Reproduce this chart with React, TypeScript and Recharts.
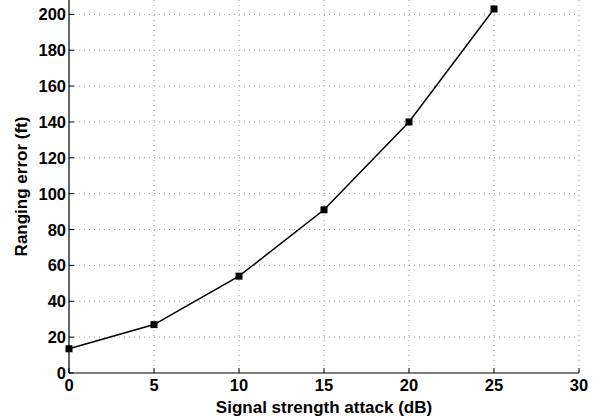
import React from 'react';
import { LineChart, Line, XAxis, YAxis, CartesianGrid, Label } from 'recharts';

const attackDb = [0, 5, 10, 15, 20, 25];
const rangingError = [13.5, 27, 54, 91, 140, 203];
const xTicks = [0, 5, 10, 15, 20, 25, 30];
const yTicks = [0, 20, 40, 60, 80, 100, 120, 140, 160, 180, 200];

const data = attackDb.map((x, i) => ({ x, err: rangingError[i] }));

const FONT = '"Liberation Sans", Arial, Helvetica, sans-serif';

const SquareDot = (props: any) => {
  const { cx, cy } = props;
  if (cx == null || cy == null) return null;
  return <rect x={cx - 3.5} y={cy - 3.5} width={7} height={7} fill="#000" />;
};

const XTick = (props: any) => {
  const { x, y, payload } = props;
  return (
    <g>
      <line x1={x} y1={y} x2={x} y2={y - 5} stroke="#000" strokeWidth={1} />
      <text x={x} y={y + 18} textAnchor="middle" fontFamily={FONT} fontWeight="bold" fontSize={16.5} fill="#000">
        {payload.value}
      </text>
    </g>
  );
};

const YTick = (props: any) => {
  const { x, y, payload } = props;
  return (
    <g>
      <line x1={x} y1={y} x2={x + 5} y2={y} stroke="#000" strokeWidth={1} />
      <text x={x - 3} y={y + 6} textAnchor="end" fontFamily={FONT} fontWeight="bold" fontSize={16.5} fill="#000">
        {payload.value}
      </text>
    </g>
  );
};

export default function App() {
  return (
    <div style={{ position: 'absolute', left: 0, top: 0, width: 602, height: 416, background: '#fff' }}>
      <LineChart width={602} height={416} data={data} margin={{ top: 0, right: 23, bottom: 0, left: 19 }}>
        <CartesianGrid
          stroke="#999"
          strokeDasharray="1 4"
          horizontalValues={yTicks.slice(1)}
          verticalValues={xTicks.slice(1)}
        />
        <XAxis
          dataKey="x"
          type="number"
          domain={[0, 30]}
          ticks={xTicks}
          height={43}
          tickSize={0}
          tickMargin={0}
          tick={<XTick />}
          axisLine={{ stroke: '#000', strokeWidth: 1.2 }}
          interval={0}
        >
          <Label
            value="Signal strength attack (dB)"
            position="insideBottom"
            offset={3}
            style={{ fontFamily: FONT, fontWeight: 'bold', fontSize: 17, fill: '#000' }}
          />
        </XAxis>
        <YAxis
          type="number"
          domain={[0, 208]}
          ticks={yTicks}
          width={50}
          tickSize={0}
          tickMargin={0}
          tick={<YTick />}
          axisLine={{ stroke: '#000', strokeWidth: 1.2 }}
          interval={0}
          allowDataOverflow
        >
          <Label
            value="Ranging error (ft)"
            angle={-90}
            position="insideLeft"
            offset={2}
            style={{ fontFamily: FONT, fontWeight: 'bold', fontSize: 17, fill: '#000', textAnchor: 'middle' }}
          />
        </YAxis>
        <Line
          dataKey="err"
          type="linear"
          stroke="#000"
          strokeWidth={1.5}
          dot={<SquareDot />}
          activeDot={false}
          isAnimationActive={false}
        />
      </LineChart>
    </div>
  );
}
